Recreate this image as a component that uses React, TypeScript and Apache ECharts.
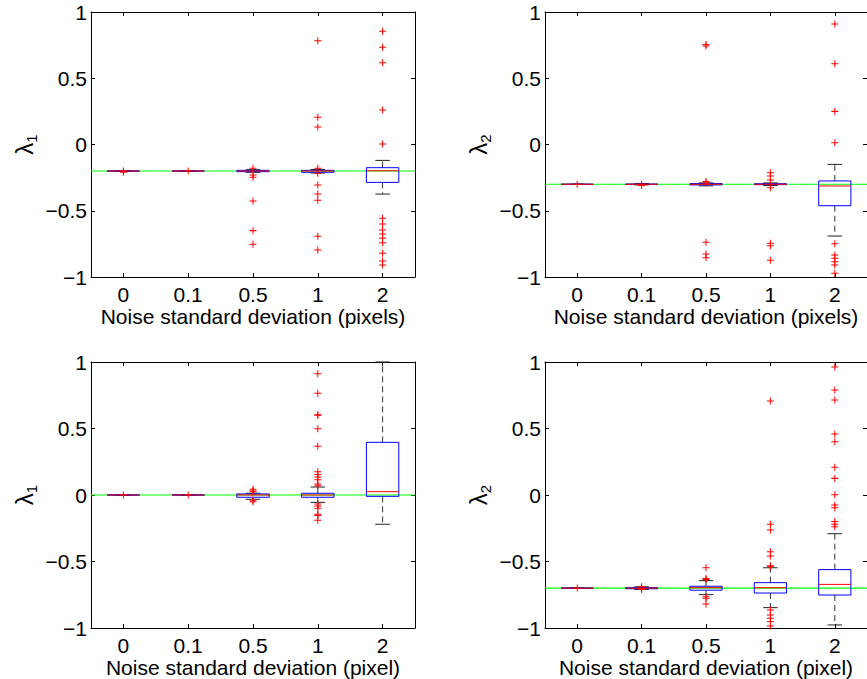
import React, { useEffect, useRef } from 'react';
import * as echarts from 'echarts';

const categories = ['0', '0.1', '0.5', '1', '2'];
const xTitles = [
  'Noise standard deviation (pixels)',
  'Noise standard deviation (pixels)',
  'Noise standard deviation (pixel)',
  'Noise standard deviation (pixel)',
];
const ySubscripts = ['1', '2', '1', '2'];
const truthValues = [-0.2, -0.3, 0, -0.7];

// [lower whisker, q1, median, q3, upper whisker] per category
const boxTopLeft = [
  [-0.2, -0.2, -0.2, -0.2, -0.2],
  [-0.2, -0.2, -0.2, -0.2, -0.2],
  [-0.21, -0.205, -0.2, -0.195, -0.19],
  [-0.215, -0.21, -0.2, -0.195, -0.188],
  [-0.374, -0.286, -0.198, -0.175, -0.12],
];
const boxTopRight = [
  [-0.3, -0.3, -0.3, -0.3, -0.3],
  [-0.305, -0.302, -0.3, -0.298, -0.295],
  [-0.312, -0.305, -0.3, -0.295, -0.29],
  [-0.31, -0.303, -0.3, -0.296, -0.29],
  [-0.691, -0.462, -0.313, -0.275, -0.15],
];
const boxBottomLeft = [
  [0, 0, 0, 0, 0],
  [0, 0, 0, 0, 0],
  [-0.032, -0.017, 0, 0.008, 0.013],
  [-0.055, -0.017, 0, 0.013, 0.06],
  [-0.22, -0.01, 0.025, 0.396, 1.0],
];
const boxBottomRight = [
  [-0.7, -0.7, -0.7, -0.7, -0.7],
  [-0.71, -0.705, -0.7, -0.697, -0.69],
  [-0.749, -0.716, -0.697, -0.686, -0.644],
  [-0.847, -0.737, -0.697, -0.659, -0.547],
  [-0.977, -0.752, -0.672, -0.561, -0.291],
];

// outliers per category
const outTopLeft = [
  [-0.2, -0.21],
  [-0.2],
  [-0.18, -0.23, -0.248, -0.426, -0.65, -0.753],
  [0.783, 0.205, 0.132, -0.18, -0.217, -0.306, -0.374, -0.42, -0.693, -0.796],
  [0.854, 0.734, 0.617, 0.26, 0.004, -0.557, -0.6, -0.645, -0.675, -0.708, -0.741, -0.821, -0.879, -0.909],
];
const outTopRight = [
  [-0.3],
  [-0.3, -0.31],
  [0.743, 0.755, -0.28, -0.29, -0.738, -0.826, -0.854],
  [-0.213, -0.238, -0.268, -0.326, -0.746, -0.764, -0.874],
  [0.909, 0.61, 0.25, 0.014, -0.749, -0.834, -0.859, -0.884, -0.909, -0.972],
];
const outBottomLeft = [
  [0],
  [0],
  [0.043, 0.03, 0.025, -0.04, -0.05],
  [0.912, 0.765, 0.604, 0.6, 0.499, 0.366, 0.175, 0.155, 0.135, 0.115, 0.083, 0.07, -0.068, -0.083, -0.1, -0.145, -0.155, -0.19],
  [],
];
const outBottomRight = [
  [-0.7],
  [-0.69, -0.705, -0.71],
  [-0.547, -0.627, -0.635, -0.765, -0.777, -0.82],
  [0.707, -0.22, -0.263, -0.426, -0.459, -0.532, -0.54, -0.865, -0.902, -0.927, -0.952, -0.985],
  [0.962, 0.789, 0.714, 0.459, 0.401, 0.208, 0.125, 0.002, -0.075, -0.095, -0.2, -0.22, -0.238],
];

const boxes = [boxTopLeft, boxTopRight, boxBottomLeft, boxBottomRight];
const outliers = [outTopLeft, outTopRight, outBottomLeft, outBottomRight];

const FONT = 'Liberation Sans, Arial, Helvetica, sans-serif';
const PLUS = 'path://M3,0h1v3h3v1h-3v3h-1v-3h-3v-1h3z';

const grids = [
  { left: 91, top: 12, width: 324, height: 265 },
  { left: 545, top: 12, width: 324, height: 265 },
  { left: 91, top: 362, width: 324, height: 266 },
  { left: 545, top: 362, width: 324, height: 266 },
];

function renderBox(params: any, api: any) {
  const x = api.value(0);
  const lo = api.coord([x, api.value(1)]);
  const q1 = api.coord([x, api.value(2)]);
  const md = api.coord([x, api.value(3)]);
  const q3 = api.coord([x, api.value(4)]);
  const hi = api.coord([x, api.value(5)]);
  const band = api.size([1, 0])[0];
  const bw = band * 0.5;
  const cw = bw * 0.45;
  const cx = lo[0];
  const wStyle = { stroke: '#333', lineWidth: 1, lineDash: [6, 4] };
  const cStyle = { stroke: '#222', lineWidth: 1 };
  return {
    type: 'group',
    children: [
      { type: 'line', shape: { x1: cx, y1: q3[1], x2: cx, y2: hi[1] }, style: wStyle },
      { type: 'line', shape: { x1: cx, y1: q1[1], x2: cx, y2: lo[1] }, style: wStyle },
      { type: 'line', shape: { x1: cx - cw / 2, y1: hi[1], x2: cx + cw / 2, y2: hi[1] }, style: cStyle },
      { type: 'line', shape: { x1: cx - cw / 2, y1: lo[1], x2: cx + cw / 2, y2: lo[1] }, style: cStyle },
      {
        type: 'rect',
        shape: { x: cx - bw / 2, y: q3[1], width: bw, height: q1[1] - q3[1] },
        style: { fill: 'none', stroke: '#0000ff', lineWidth: 1 },
      },
      { type: 'line', shape: { x1: cx - bw / 2, y1: md[1], x2: cx + bw / 2, y2: md[1] }, style: { stroke: '#ff0000', lineWidth: 1 } },
    ],
  };
}

function renderTruth(params: any, api: any) {
  const cs = params.coordSys;
  const y = api.coord([0, api.value(1)])[1];
  return {
    type: 'line',
    shape: { x1: cs.x, y1: y, x2: cs.x + cs.width, y2: y },
    style: { stroke: '#00ff00', lineWidth: 1.2 },
  };
}

export default function App() {
  const ref = useRef<HTMLDivElement>(null);
  useEffect(() => {
    if (!ref.current) return;
    const chart = echarts.init(ref.current, undefined, { renderer: 'svg' });
    const xAxis: any[] = [];
    const yAxis: any[] = [];
    const series: any[] = [];
    const lineStyle = { color: '#000', width: 1 };
    grids.forEach((g, i) => {
      xAxis.push({
        gridIndex: i,
        type: 'category',
        data: categories,
        boundaryGap: true,
        position: 'bottom',
        axisLine: { show: true, onZero: false, lineStyle },
        axisTick: { show: true, inside: true, alignWithLabel: true, length: 4, lineStyle },
        axisLabel: { show: true, color: '#000', fontSize: 21, fontFamily: FONT, margin: 7 },
        splitLine: { show: false },
        name: xTitles[i],
        nameLocation: 'middle',
        nameGap: 29,
        nameTextStyle: { color: '#000', fontSize: 21, fontFamily: FONT },
      });
      xAxis.push({
        gridIndex: i,
        type: 'category',
        data: categories,
        boundaryGap: true,
        position: 'top',
        axisLine: { show: true, onZero: false, lineStyle },
        axisTick: { show: true, inside: true, alignWithLabel: true, length: 4, lineStyle },
        axisLabel: { show: false },
        splitLine: { show: false },
      });
      yAxis.push({
        gridIndex: i,
        type: 'value',
        min: -1,
        max: 1,
        interval: 0.5,
        position: 'left',
        axisLine: { show: true, onZero: false, lineStyle },
        axisTick: { show: true, inside: true, length: 4, lineStyle },
        axisLabel: {
          color: '#000',
          fontSize: 21,
          fontFamily: FONT,
          margin: 4,
          formatter: (v: number) => String(v).replace('-', '\u2212'),
        },
        splitLine: { show: false },
        name: '{l|λ}{s|' + ySubscripts[i] + '}',
        nameLocation: 'middle',
        nameRotate: 90,
        nameGap: 50,
        nameTextStyle: {
          color: '#000',
          fontFamily: FONT,
          rich: {
            l: { fontSize: 24, lineHeight: 24, fontFamily: FONT, color: '#000', padding: [0, 0, 5, 0] },
            s: { fontSize: 15, lineHeight: 15, fontFamily: FONT, color: '#000', verticalAlign: 'bottom' },
          },
        },
      });
      yAxis.push({
        gridIndex: i,
        type: 'value',
        min: -1,
        max: 1,
        interval: 0.5,
        position: 'right',
        axisLine: { show: true, onZero: false, lineStyle },
        axisTick: { show: true, inside: true, length: 4, lineStyle },
        axisLabel: { show: false },
        splitLine: { show: false },
      });
      series.push({
        type: 'custom',
        xAxisIndex: 2 * i,
        yAxisIndex: 2 * i,
        renderItem: renderTruth,
        encode: { x: 0, y: 1 },
        data: [[0, truthValues[i]]],
        z: 1,
        silent: true,
      });
      series.push({
        type: 'custom',
        xAxisIndex: 2 * i,
        yAxisIndex: 2 * i,
        renderItem: renderBox,
        encode: { x: 0, y: [1, 2, 3, 4, 5] },
        data: boxes[i].map((b, k) => [k, ...b]),
        z: 2,
        silent: true,
      });
      const pts: number[][] = [];
      outliers[i].forEach((arr, k) => arr.forEach((v) => pts.push([k, v])));
      series.push({
        type: 'scatter',
        xAxisIndex: 2 * i,
        yAxisIndex: 2 * i,
        symbol: PLUS,
        symbolSize: 7,
        itemStyle: { color: '#ff0000', opacity: 1 },
        data: pts,
        z: 3,
        silent: true,
      });
    });
    chart.setOption({
      animation: false,
      backgroundColor: '#fff',
      grid: grids.map((g) => ({ ...g, containLabel: false })),
      xAxis,
      yAxis,
      series,
    });
    return () => chart.dispose();
  }, []);
  return (
    <div
      ref={ref}
      style={{ position: 'absolute', left: 0, top: 0, width: 867, height: 679, overflow: 'hidden' }}
    />
  );
}
